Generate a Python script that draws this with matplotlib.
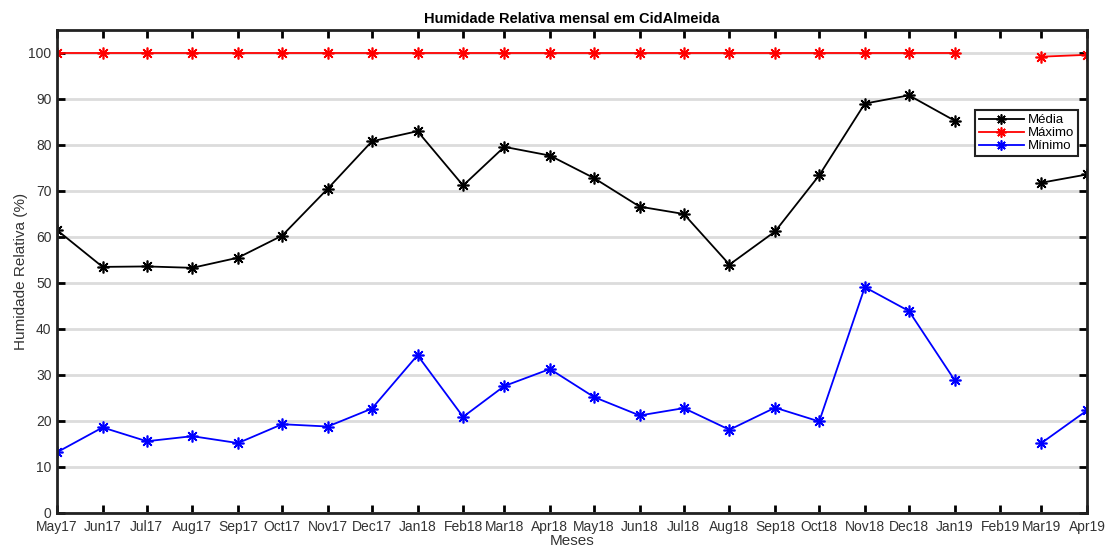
import datetime as dt

import matplotlib
matplotlib.use("Agg")
import matplotlib.pyplot as plt
import numpy as np

plt.rcParams["font.family"] = ["Liberation Sans", "DejaVu Sans"]

# monthly relative humidity, May 2017 .. Apr 2019 (Feb19 missing)
months = [dt.date(2017 + (4 + i) // 12, (4 + i) % 12 + 1, 1) for i in range(24)]
tick_labels = [m.strftime("%b%y") for m in months]

media = [61.5, 53.5, 53.6, 53.3, 55.5, 60.3, 70.5, 80.8, 83.0, 71.2, 79.6, 77.7,
         72.8, 66.6, 65.0, 54.0, 61.2, 73.4, 89.0, 90.8, 85.3, np.nan, 71.8, 73.6]
maximo = [100, 100, 100, 100, 100, 100, 100, 100, 100, 100, 100, 100,
          100, 100, 100, 100, 100, 100, 100, 100, 100, np.nan, 99.2, 99.6]
minimo = [13.2, 18.6, 15.6, 16.7, 15.2, 19.3, 18.8, 22.7, 34.3, 20.9, 27.6, 31.3,
          25.2, 21.2, 22.8, 18.1, 22.9, 19.9, 49.1, 43.9, 28.9, np.nan, 15.2, 22.3]

fig = plt.figure(figsize=(11.07, 5.5), dpi=100)
ax = fig.add_axes([57 / 1107, 37 / 550, 1030 / 1107, 483 / 550])

star = (8, 2, 0)  # matlab-like asterisk
style = dict(marker=star, markersize=8.5, markeredgewidth=1.2, linewidth=1.3)
ax.plot(months, media, color="black", label="Média", **style)
ax.plot(months, maximo, color="red", label="Máximo", **style)
ax.plot(months, minimo, color="blue", label="Mínimo", **style)

ax.set_xlim(months[0], months[-1])
ax.set_ylim(0, 105)
ax.set_xticks(months)
ax.set_xticklabels(tick_labels)
ax.set_yticks(np.arange(0, 101, 10))
ax.yaxis.grid(True, color="#dcdcdc", linewidth=2)
ax.set_axisbelow(True)
ax.tick_params(direction="in", length=6, width=2, top=True, right=True,
               labelsize=10, labelcolor="#333333")
ax.tick_params(axis="x", pad=5)
ax.tick_params(axis="y", pad=4)
for s in ax.spines.values():
    s.set_linewidth(2)
    s.set_color("#222222")

ax.set_title("Humidade Relativa mensal em CidAlmeida", fontsize=10.5, fontweight="bold", pad=5)
ax.set_xlabel("Meses", fontsize=11, color="#333333", labelpad=0)
ax.set_ylabel("Humidade Relativa (%)", fontsize=11, color="#333333", labelpad=0)

leg = ax.legend(loc="upper left", bbox_to_anchor=(0.891, 0.834), fontsize=9.5,
                fancybox=False, framealpha=1, borderpad=0.3, labelspacing=0.05,
                handlelength=3.4, handletextpad=0.3, borderaxespad=0, markerscale=0.85)
leg.get_frame().set_edgecolor("#222222")
leg.get_frame().set_linewidth(1.5)

fig.savefig("out.png", dpi=100)
